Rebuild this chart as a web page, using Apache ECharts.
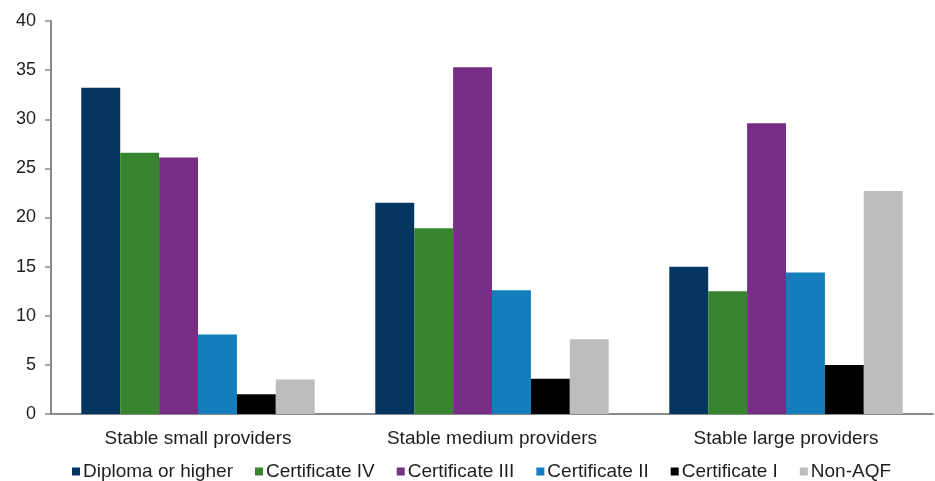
<!DOCTYPE html>
<html><head><meta charset="utf-8">
<script src="https://cdn.jsdelivr.net/npm/echarts@6/dist/echarts.min.js"></script>
<style>html,body{margin:0;padding:0;background:#fff}#c{width:935px;height:481px}</style>
</head><body><div id="c"></div>
<script>
const categories = ['Stable small providers', 'Stable medium providers', 'Stable large providers'];
const seriesNames = ['Diploma or higher', 'Certificate IV', 'Certificate III', 'Certificate II', 'Certificate I', 'Non-AQF'];
const diploma = [33.2, 21.5, 15.0];
const cert4 = [26.6, 18.9, 12.5];
const cert3 = [26.1, 35.3, 29.6];
const cert2 = [8.1, 12.6, 14.4];
const cert1 = [2.0, 3.6, 5.0];
const nonAqf = [3.5, 7.6, 22.7];
const colors = ['#05365f', '#388530', '#782d86', '#147dbc', '#000000', '#bdbdbd'];
const values = [diploma, cert4, cert3, cert2, cert1, nonAqf];
const font = 'Liberation Sans, Arial, sans-serif';
const chart = echarts.init(document.getElementById('c'));
chart.setOption({
  animation: false,
  grid: { left: 51, right: 2, top: 21, bottom: 67 },
  legend: {
    top: 457, left: 67, itemWidth: 8, itemHeight: 8, itemGap: 22,
    icon: 'rect',
    textStyle: { fontFamily: font, fontSize: 19, color: '#1e1e1e', padding: [0, 0, 0, -2] },
    data: seriesNames
  },
  xAxis: {
    type: 'category', data: categories,
    axisLine: { lineStyle: { color: '#8a8a8a', width: 2 } },
    axisTick: { show: false },
    axisLabel: { fontFamily: font, fontSize: 19, color: '#1e1e1e', margin: 15 }
  },
  yAxis: {
    type: 'value', min: 0, max: 40, interval: 5,
    splitLine: { show: false },
    axisLine: { show: true, lineStyle: { color: '#8a8a8a', width: 2 } },
    axisTick: { show: true, length: 6, lineStyle: { color: '#8a8a8a', width: 1.5 } },
    axisLabel: { fontFamily: font, fontSize: 18, color: '#1e1e1e', margin: 15 }
  },
  series: seriesNames.map((n, i) => ({
    name: n, type: 'bar', data: values[i], barGap: '0%', barCategoryGap: '20.6%',
    itemStyle: { color: colors[i] }
  }))
});
</script></body></html>
